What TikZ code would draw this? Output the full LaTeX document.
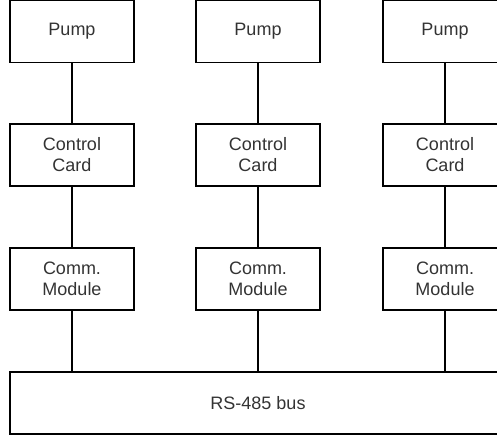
\documentclass[tikz,border=0pt]{standalone}
\usepackage{fontspec}
\setmainfont{Liberation Sans}
\usepackage{tikz}
\usetikzlibrary{positioning, calc}

\tikzset{
  unit/.style={draw, rectangle, line width=1.1pt, minimum width=124pt, minimum height=62pt,
    align=center, text=black!80, font=\fontsize{18}{21}\selectfont, inner sep=0pt},
  link/.style={line width=1.1pt}
}

\begin{document}
\begin{tikzpicture}[x=1pt, y=1pt]
\useasboundingbox (0,0) rectangle (497,439);
\clip (0,0) rectangle (497,439);

% Pumps
\node[unit] (pump1) at (72, 407.5) {Pump};
\node[unit] (pump2) at (258, 407.5) {Pump};
\node[unit] (pump3) at (445, 407.5) {Pump};

% Control cards
\node[unit] (card1) at (72, 284) {Control\\Card};
\node[unit] (card2) at (258, 284) {Control\\Card};
\node[unit] (card3) at (445, 284) {Control\\Card};

% Comm. modules
\node[unit] (comm1) at (72, 160) {Comm.\\Module};
\node[unit] (comm2) at (258, 160) {Comm.\\Module};
\node[unit] (comm3) at (445, 160) {Comm.\\Module};

% Bus
\node[unit, minimum width=496pt] (bus) at (258, 36) {RS-485 bus};

% Links
\draw[link] (pump1.south) -- (card1.north);
\draw[link] (pump2.south) -- (card2.north);
\draw[link] (pump3.south) -- (card3.north);
\draw[link] (card1.south) -- (comm1.north);
\draw[link] (card2.south) -- (comm2.north);
\draw[link] (card3.south) -- (comm3.north);
\draw[link] (comm1.south) -- (comm1.south |- bus.north);
\draw[link] (comm2.south) -- (comm2.south |- bus.north);
\draw[link] (comm3.south) -- (comm3.south |- bus.north);

\end{tikzpicture}
\end{document}
